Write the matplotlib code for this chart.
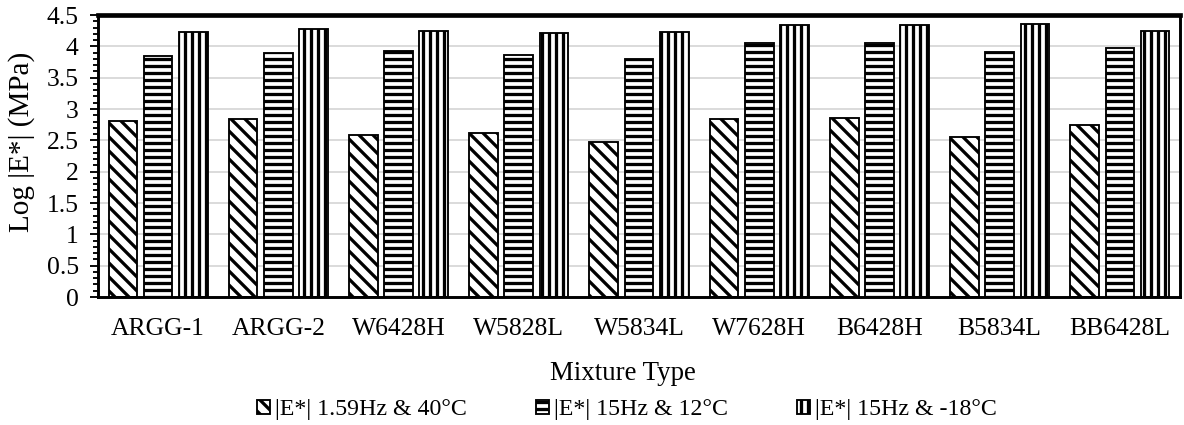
import numpy as np
import matplotlib
matplotlib.use("Agg")
import matplotlib.pyplot as plt
from matplotlib.ticker import MultipleLocator

# --- data ---
mixtures = ["ARGG-1", "ARGG-2", "W6428H", "W5828L", "W5834L",
            "W7628H", "B6428H", "B5834L", "BB6428L"]
e_40c = [2.81, 2.84, 2.58, 2.62, 2.47, 2.84, 2.86, 2.55, 2.75]
e_12c = [3.85, 3.90, 3.92, 3.86, 3.79, 4.06, 4.05, 3.91, 3.97]
e_m18c = [4.23, 4.28, 4.24, 4.22, 4.23, 4.34, 4.34, 4.36, 4.25]
series_labels = ["|E*| 1.59Hz & 40°C", "|E*| 15Hz & 12°C", "|E*| 15Hz & -18°C"]
hatches = ["\\\\", "--", "||"]

# --- style ---
DPI = 84
plt.rcParams["font.family"] = ["Liberation Serif", "DejaVu Serif"]
plt.rcParams["hatch.color"] = "black"
plt.rcParams["hatch.linewidth"] = 2.8

fig = plt.figure(figsize=(1184 / DPI, 425 / DPI), dpi=DPI)
ax = fig.add_axes([98 / 1184, 1 - 297 / 425, (1180 - 98) / 1184, 282 / 425])

x = np.arange(len(mixtures))
step = 0.293
width = 0.238
for i, (vals, lab, h) in enumerate(zip([e_40c, e_12c, e_m18c], series_labels, hatches)):
    ax.bar(x + (i - 1) * step, vals, width, label=lab, color="white",
           edgecolor="black", linewidth=1.6, hatch=h, zorder=3)

ax.set_xlim(-0.5, len(mixtures) - 0.5)
ax.set_ylim(0, 4.5)
ax.yaxis.set_minor_locator(MultipleLocator(0.1))
ax.set_yticks(np.arange(0, 4.51, 0.5))
ax.set_yticklabels(["0", "0.5", "1", "1.5", "2", "2.5", "3", "3.5", "4", "4.5"])
ax.set_xticks(x)
ax.set_xticklabels(mixtures)

ax.grid(axis="y", color="#d9d9d9", linewidth=1.6, zorder=0)
ax.set_axisbelow(True)

# spines
ax.spines["top"].set_linewidth(4)
ax.spines["right"].set_linewidth(2.5)
ax.spines["left"].set_linewidth(2.5)
ax.spines["bottom"].set_linewidth(2.5)
for s in ax.spines.values():
    s.set_color("black")
    s.set_zorder(5)

ax.tick_params(axis="y", which="major", length=6.5, width=1.6, labelsize=22, pad=10)
ax.tick_params(axis="y", which="minor", length=4, width=1.6)
ax.tick_params(axis="x", length=0, labelsize=22, pad=18)

ax.set_ylabel("Log |E*| (MPa)", fontsize=25, va="center")
ax.yaxis.set_label_coords((22 - 98) / 1082, (297 - 142) / 282)
ax.set_xlabel("Mixture Type", fontsize=23, va="center")
ax.xaxis.set_label_coords((623 - 98) / 1082, (297 - 374) / 282)

fig.legend(loc="center", bbox_to_anchor=(627 / 1184, 1 - 410 / 425), ncol=3,
           frameon=False, fontsize=20.5, handlelength=0.55, handleheight=0.55,
           handletextpad=0.2, columnspacing=2.9)

fig.savefig("out.png", dpi=DPI)
